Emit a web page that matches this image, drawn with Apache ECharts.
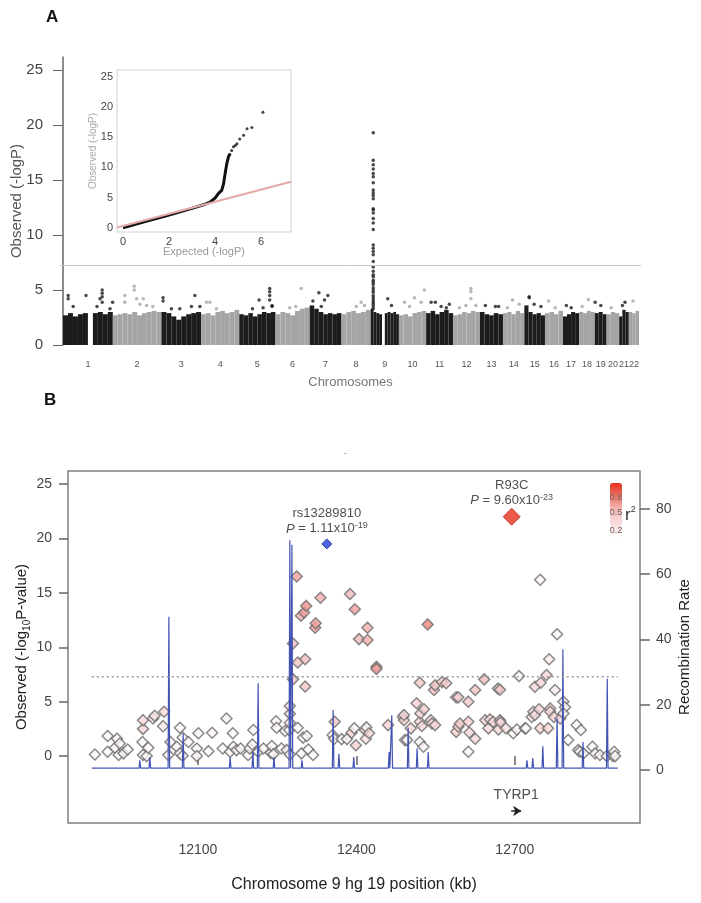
<!DOCTYPE html>
<html>
<head>
<meta charset="utf-8">
<script src="https://cdn.jsdelivr.net/npm/echarts@6.0.0/dist/echarts.min.js"></script>
<style>
  html, body { margin: 0; padding: 0; background: #fff; }
  #chart { width: 701px; height: 903px; }
</style>
</head>
<body>
<div id="chart"></div>
<script>
// ---------- panel A : genome-wide scan (positions in Mb) ----------
var chromLen = [249, 243, 198, 191, 181, 171, 159, 146, 141, 136, 135, 134, 115, 107, 103, 90, 81, 78, 59, 63, 48, 51];
// rough top of the dense band along each chromosome (0 = no markers)
var chromTops = [
  [2.7, 2.9, 2.6, 2.8, 2.9, 0, 2.9, 3.0, 2.8, 3.0],
  [2.7, 2.8, 2.9, 2.8, 3.0, 2.7, 2.9, 3.0, 3.1, 3.0],
  [3.0, 2.9, 2.6, 2.3, 2.6, 2.8, 2.9, 3.0],
  [2.8, 2.9, 2.7, 3.0, 3.1, 2.9, 3.0, 3.2],
  [2.8, 2.7, 2.9, 2.6, 2.8, 3.0, 2.9, 3.0],
  [2.8, 3.0, 2.9, 2.7, 3.1, 3.3, 3.4],
  [3.6, 3.3, 3.0, 2.8, 2.9, 2.8, 2.9],
  [2.8, 3.0, 3.1, 2.9, 3.0, 3.2],
  [3.3, 3.0, 2.9, 2.8, 0, 2.9, 3.0, 2.9, 3.0, 2.8],
  [2.7, 2.8, 2.6, 2.9, 3.0, 3.1],
  [2.9, 3.1, 2.8, 3.0, 3.2, 2.9],
  [2.7, 2.8, 3.0, 2.9, 3.1, 3.0],
  [3.0, 2.8, 2.7, 2.9, 2.8],
  [2.9, 3.0, 2.8, 3.1, 2.9],
  [3.6, 3.0, 2.8, 2.9, 2.7],
  [2.9, 3.0, 2.8, 3.1],
  [2.6, 2.8, 3.0, 2.9],
  [3.0, 2.9, 3.1, 3.0],
  [2.9, 3.0, 2.8],
  [2.8, 3.0, 2.9],
  [2.6, 3.2, 3.0],
  [3.0, 2.9, 3.1]
];
// [chromosome, position (Mb), -logP]
var chromOutliers = [
  [1, 26, 4.5], [1, 26, 4.2], [1, 51, 3.5], [1, 115, 4.5], [1, 170, 3.5], [1, 185, 4.2], [1, 196, 5.0], [1, 196, 4.7], [1, 196, 4.4], [1, 196, 3.9], [1, 235, 3.3], [1, 248, 3.9],
  [2, 60, 4.5], [2, 60, 3.9], [2, 107, 5.35], [2, 107, 5.0], [2, 119, 4.2], [2, 135, 3.7], [2, 152, 4.2], [2, 169, 3.6], [2, 200, 3.5],
  [3, 8, 4.3], [3, 8, 4.0], [3, 50, 3.3], [3, 92, 3.3], [3, 150, 3.5], [3, 167, 4.5], [3, 192, 3.5],
  [4, 27, 3.9], [4, 44, 3.9], [4, 77, 3.3],
  [5, 66, 3.3], [5, 99, 4.1], [5, 119, 3.4], [5, 152, 5.15], [5, 152, 4.85], [5, 152, 4.5], [5, 152, 4.1], [5, 164, 3.6], [5, 164, 3.5],
  [6, 71, 3.4], [6, 101, 3.5], [6, 129, 5.15],
  [7, 16, 4.0], [7, 46, 4.75], [7, 58, 3.5], [7, 74, 4.1], [7, 91, 4.5],
  [8, 74, 3.5], [8, 98, 3.9], [8, 115, 3.6],
  [9, 85, 4.2], [9, 104, 3.6],
  [10, 28, 3.9], [10, 53, 3.5], [10, 78, 4.3], [10, 111, 3.9], [10, 127, 5.0],
  [11, 25, 3.9], [11, 46, 3.9], [11, 75, 3.5], [11, 101, 3.4], [11, 116, 3.7],
  [12, 31, 3.4], [12, 64, 3.6], [12, 89, 5.15], [12, 89, 4.85], [12, 89, 4.2], [12, 114, 3.6],
  [13, 27, 3.6], [13, 77, 3.5], [13, 93, 3.5],
  [14, 22, 3.4], [14, 48, 4.1], [14, 81, 3.7],
  [15, 24, 4.4], [15, 24, 4.3], [15, 49, 3.7], [15, 83, 3.5],
  [16, 18, 4.0], [16, 51, 3.4],
  [17, 17, 3.6], [17, 41, 3.4],
  [18, 15, 3.5], [18, 46, 4.15],
  [19, 2, 3.9], [19, 30, 3.6],
  [20, 23, 3.4],
  [21, 16, 3.6], [21, 29, 3.9],
  [22, 21, 4.0]
];
// TYRP1 signal on chromosome 9
var chr9PeakPos = 12.7;
var chr9PeakLogP = [19.3, 16.8, 16.4, 16.0, 15.6, 15.3, 14.75, 14.1, 13.85, 13.6, 13.3, 12.4, 12.3, 12.0, 11.5, 11.1, 10.5,
  9.1, 8.8, 8.5, 8.2, 7.6, 7.1, 6.7, 6.4, 6.2, 5.9, 5.7, 5.5, 5.2, 5.0, 4.8, 4.5, 4.3, 4.1, 3.9, 3.7, 3.5, 3.3];
var gwThreshold = 7.3;

// ---------- inset : QQ plot ----------
var qqTicksX = [0, 2, 4, 6];
var qqTicksY = [0, 5, 10, 15, 20, 25];
var qqDense = [[0, 0], [1, 1.05], [2, 2.1], [3, 3.2], [3.5, 3.8], [3.8, 4.3], [4.0, 4.9], [4.15, 5.7], [4.29, 6.2],
  [4.37, 7.3], [4.44, 9.0], [4.51, 10.6], [4.58, 11.7], [4.66, 12.3]];
var qqSparse = [[4.72, 12.8], [4.8, 13.4], [4.88, 13.6], [4.95, 13.9], [5.07, 14.7], [5.24, 15.3], [5.39, 16.4], [5.6, 16.6], [6.08, 19.1]];
var qqExpected = [[-0.25, 0.05], [7.3, 7.6]];

// ---------- panel B : regional plot (positions in kb) ----------
var posTicks = [12100, 12400, 12700];
var logPTicks = [0, 5, 10, 15, 20, 25];
var rateTicks = [0, 20, 40, 60, 80];
// [position, -log10 P, r2]
var snps = [
  [11905, 0.15, 0.05], [11929, 1.85, 0.05], [11929, 0.4, 0.05], [11943, 0.77, 0.05], [11947, 1.6, 0.05], [11950, 0.1, 0.05], [11952, 1.15, 0.05], [11959, 0.25, 0.05], [11967, 0.6, 0.05],
  [11995, 1.3, 0.05], [11996, 0.1, 0.05], [11996, 2.5, 0.3], [11996, 3.3, 0.3], [12003, 0, 0.05], [12006, 0.77, 0.05], [12015, 3.45, 0.2], [12018, 3.7, 0.2], [12034, 2.75, 0.15], [12036, 4.07, 0.3],
  [12044, 0.1, 0.05], [12048, 1.3, 0.05], [12060, 0.85, 0.05], [12066, 2.6, 0.05], [12066, 0.25, 0.05], [12071, 1.7, 0.05], [12071, 0.03, 0.05], [12082, 1.3, 0.05],
  [12098, 0.7, 0.05], [12098, 0, 0.05], [12101, 2.1, 0.05], [12120, 0.45, 0.05], [12127, 2.15, 0.05], [12147, 0.7, 0.05], [12154, 3.45, 0.05], [12161, 0.4, 0.05], [12166, 2.1, 0.05], [12167, 0.86, 0.05], [12173, 0.55, 0.05], [12181, 0.7, 0.05],
  [12195, 0.1, 0.05], [12198, 0.7, 0.05], [12203, 1.07, 0.05], [12205, 2.4, 0.05], [12214, 0.4, 0.05], [12224, 0.7, 0.05], [12238, 0.3, 0.05], [12240, 0.92, 0.05], [12243, 0.18, 0.05], [12248, 3.2, 0.05], [12249, 2.6, 0.05], [12258, 0.7, 0.05], [12265, 2.3, 0.05], [12268, 0.55, 0.05], [12273, 2.4, 0.05],
  [12274, 0.15, 0.05], [12274, 3.06, 0.2], [12274, 3.9, 0.25], [12274, 4.6, 0.3], [12280, 7.05, 0.45], [12280, 10.35, 0.5], [12287, 16.5, 0.6], [12289, 8.6, 0.45], [12289, 2.6, 0.05], [12295, 12.9, 0.55], [12296, 0.25, 0.05], [12299, 1.7, 0.05], [12301, 13.2, 0.6], [12303, 8.9, 0.5], [12303, 6.4, 0.45], [12305, 13.8, 0.65], [12306, 1.85, 0.05], [12309, 0.6, 0.05], [12318, 0.1, 0.05],
  [12322, 11.8, 0.6], [12323, 12.2, 0.6], [12332, 14.55, 0.55], [12355, 1.93, 0.05], [12358, 1.6, 0.05], [12359, 3.15, 0.45], [12372, 1.56, 0.05], [12382, 1.56, 0.05],
  [12388, 14.9, 0.5], [12391, 2.15, 0.35], [12396, 2.55, 0.05], [12397, 13.5, 0.6], [12399, 1.0, 0.35], [12405, 10.75, 0.5], [12416, 2.4, 0.35], [12418, 1.6, 0.2], [12419, 2.64, 0.05], [12421, 11.8, 0.55], [12421, 10.66, 0.55], [12424, 2.1, 0.3], [12438, 8.2, 0.6], [12438, 8.0, 0.6],
  [12460, 2.85, 0.35], [12488, 3.6, 0.35], [12490, 3.3, 0.3], [12490, 3.77, 0.3], [12492, 1.47, 0.05], [12496, 1.47, 0.05], [12503, 2.55, 0.3], [12514, 4.85, 0.35], [12520, 6.74, 0.4], [12520, 3.15, 0.3], [12520, 1.3, 0.05], [12521, 3.92, 0.35], [12524, 2.76, 0.3], [12527, 0.86, 0.05], [12528, 4.3, 0.35],
  [12535, 12.1, 0.7], [12541, 3.3, 0.3], [12543, 3.0, 0.3], [12547, 6.07, 0.45], [12549, 6.5, 0.4], [12549, 2.85, 0.3], [12562, 6.8, 0.4], [12570, 6.7, 0.4], [12589, 5.4, 0.35], [12589, 2.23, 0.3], [12593, 5.4, 0.35], [12593, 2.7, 0.35], [12596, 3.0, 0.35],
  [12612, 5.0, 0.4], [12612, 3.15, 0.35], [12612, 0.4, 0.05], [12614, 2.17, 0.3], [12625, 6.07, 0.45], [12625, 1.6, 0.3], [12642, 7.05, 0.5], [12644, 3.3, 0.3], [12650, 2.55, 0.3], [12653, 3.37, 0.3], [12659, 3.15, 0.3], [12668, 6.2, 0.4], [12669, 2.45, 0.3], [12672, 6.1, 0.4], [12672, 3.3, 0.3], [12673, 3.1, 0.3], [12683, 2.55, 0.25],
  [12697, 2.1, 0.05], [12704, 2.45, 0.05], [12708, 7.35, 0.05], [12719, 2.55, 0.05], [12721, 2.55, 0.05], [12732, 3.6, 0.25], [12735, 4.07, 0.3], [12738, 3.77, 0.25], [12738, 6.37, 0.3], [12746, 4.3, 0.3], [12748, 2.55, 0.3], [12748, 16.2, 0.05], [12749, 6.74, 0.3], [12760, 7.45, 0.3], [12763, 2.55, 0.3], [12765, 8.9, 0.15], [12767, 4.38, 0.3], [12767, 4.07, 0.3],
  [12774, 3.6, 0.3], [12776, 6.07, 0.15], [12780, 11.2, 0.05], [12786, 3.45, 0.3], [12792, 5.0, 0.15], [12795, 4.48, 0.15], [12792, 3.92, 0.05], [12801, 1.47, 0.05], [12817, 2.85, 0.05], [12820, 0.55, 0.05], [12823, 0.4, 0.05], [12825, 2.4, 0.05], [12830, 0.25, 0.05], [12847, 0.86, 0.05], [12852, 0.25, 0.05], [12861, 0.1, 0.05], [12874, 0, 0.05], [12886, 0, 0.05], [12888, 0.4, 0.05], [12890, 0, 0.05]
];
var leadNames = ['rs13289810', 'R93C'];
var leadPos = [12344, 12694];
var leadLogP = [19.5, 22.0];
var leadPMantissa = ['1.11x10', '9.60x10'];
var leadPExp = ['-19', '-23'];
// recombination rate (cM/Mb): background level and spikes
var recombStart = 11899;
var recombEnd = 12895;
var recombBase = 0.6;
var recombPos = [11990, 12009, 12045, 12072, 12161, 12204, 12214, 12244, 12274, 12278, 12297, 12356, 12367, 12395, 12462, 12467, 12498, 12515, 12536, 12723, 12734, 12753, 12780, 12791, 12829, 12875];
var recombRate = [3, 4, 47, 11.3, 4, 5.5, 26.6, 4, 70.4, 69, 3, 18.4, 5, 4, 5.5, 16.8, 13, 6.7, 5.5, 3, 3.7, 7.3, 15.9, 37, 8.6, 28];
var geneNames = ['TYRP1'];
var geneStart = [12693];
var geneEnd = [12712];
var legendTicks = ['0.8', '0.5', '0.2'];

// ---------- build series data ----------
var chromStart = [];
var acc = 0;
chromLen.forEach(function (l) { chromStart.push(acc); acc += l; });
var genomeLen = acc;
var chromCenter = chromStart.map(function (s, i) { return s + chromLen[i] / 2; });

var blocks = [];
chromTops.forEach(function (tops, i) {
  var w = chromLen[i] / tops.length;
  tops.forEach(function (t, j) {
    if (t > 0) blocks.push([chromStart[i] + j * w, chromStart[i] + (j + 1) * w, t, i % 2]);
  });
});
var outlierData = chromOutliers.map(function (o) {
  return [chromStart[o[0] - 1] + o[1], o[2], (o[0] - 1) % 2];
});
var peakData = chr9PeakLogP.map(function (v) { return [chromStart[8] + chr9PeakPos, v]; });

var recombLine = [[recombStart, recombBase]];
recombPos.forEach(function (p, i) {
  recombLine.push([p - 1.5, recombBase], [p, recombRate[i]], [p + 1.5, recombBase]);
});
recombLine.push([recombEnd, recombBase]);

var BLACK = '#1c1c1c', GREY = '#a5a5a5';
var FONT = 'Liberation Sans, Arial, Helvetica, sans-serif';

var leadRich = {
  t: { fontSize: 13, color: '#222', lineHeight: 15 },
  i: { fontSize: 13, color: '#222', fontStyle: 'italic', lineHeight: 15 },
  s: { fontSize: 9, color: '#222', verticalAlign: 'top', lineHeight: 9 }
};
function leadLabel(k) {
  return '{t|' + leadNames[k] + '}\n{i|P}{t| = ' + leadPMantissa[k] + '}{s|' + leadPExp[k] + '}';
}

var chart = echarts.init(document.getElementById('chart'), null, { renderer: 'canvas' });

var option = {
  animation: false,
  backgroundColor: '#fff',
  textStyle: { fontFamily: FONT },
  grid: [
    { left: 60, top: 57, width: 581, height: 288, outerBoundsMode: 'none' },
    { left: 117, top: 70, width: 174, height: 162, show: true, borderColor: '#d0d0d0', borderWidth: 1, backgroundColor: '#fff', outerBoundsMode: 'none' },
    { left: 68, top: 471, width: 572, height: 352, show: true, borderColor: '#808080', borderWidth: 1.5, outerBoundsMode: 'none' }
  ],
  xAxis: [
    {
      gridIndex: 0, type: 'value', min: -15, max: genomeLen + 10,
      axisLine: { show: false }, axisTick: { show: false }, splitLine: { show: false },
      axisLabel: {
        customValues: chromCenter, fontSize: 9, color: '#555', margin: 15, hideOverlap: false,
        formatter: function (v) {
          var best = 0;
          chromCenter.forEach(function (c, i) { if (Math.abs(c - v) < Math.abs(chromCenter[best] - v)) best = i; });
          return String(best + 1);
        }
      },
      name: 'Chromosomes', nameLocation: 'middle', nameGap: 31, nameMoveOverlap: false,
      nameTextStyle: { fontSize: 13, color: '#777' }
    },
    {
      gridIndex: 1, type: 'value', min: -0.26, max: 7.3,
      axisLine: { show: false }, axisTick: { show: false }, splitLine: { show: false },
      axisLabel: { customValues: qqTicksX, fontSize: 11, color: '#444', margin: 4 },
      name: 'Expected (-logP)', nameLocation: 'middle', nameGap: 14, nameMoveOverlap: false,
      nameTextStyle: { fontSize: 11, color: '#999' }
    },
    {
      gridIndex: 2, type: 'value', min: 11854, max: 12937,
      axisLine: { show: false }, splitLine: { show: false },
      axisTick: { show: true, customValues: posTicks, length: 9, lineStyle: { color: '#666', width: 1.5 } },
      axisLabel: { customValues: posTicks, fontSize: 14, color: '#444', margin: 20, formatter: function (v) { return String(v); } },
      name: 'Chromosome 9 hg 19 position (kb)', nameLocation: 'middle', nameGap: 54, nameMoveOverlap: false,
      nameTextStyle: { fontSize: 16, color: '#222' }
    }
  ],
  yAxis: [
    {
      gridIndex: 0, type: 'value', min: 0, max: 26.2,
      axisLine: { show: true, lineStyle: { color: '#666', width: 1.5 } },
      axisTick: { show: true, customValues: [0, 5, 10, 15, 20, 25], length: 10, lineStyle: { color: '#666' } },
      axisLabel: { customValues: [0, 5, 10, 15, 20, 25], fontSize: 15, color: '#444', margin: 17 },
      splitLine: { show: false },
      name: 'Observed (-logP)', nameLocation: 'middle', nameGap: 36, nameRotate: 90, nameMoveOverlap: false,
      nameTextStyle: { fontSize: 15, color: '#555' }
    },
    {
      gridIndex: 1, type: 'value', min: -0.7, max: 26.1,
      axisLine: { show: false }, axisTick: { show: false }, splitLine: { show: false },
      axisLabel: { customValues: qqTicksY, fontSize: 11, color: '#444', margin: 4 },
      name: 'Observed (-logP)', nameLocation: 'middle', nameGap: 19, nameRotate: 90, nameMoveOverlap: false,
      nameTextStyle: { fontSize: 10, color: '#aaa' }
    },
    {
      gridIndex: 2, type: 'value', min: -6.15, max: 26.2, position: 'left',
      axisLine: { show: false }, splitLine: { show: false },
      axisTick: { show: true, customValues: logPTicks, length: 9, lineStyle: { color: '#666', width: 1.5 } },
      axisLabel: { customValues: logPTicks, fontSize: 14, color: '#444', margin: 16 },
      name: 'Observed (-log{sub|10}P-value)', nameLocation: 'middle', nameGap: 36, nameRotate: 90, nameMoveOverlap: false,
      nameTextStyle: { fontSize: 15, color: '#222', lineHeight: 20, rich: { sub: { fontSize: 10, color: '#222', verticalAlign: 'bottom', lineHeight: 12 } } }
    },
    {
      gridIndex: 2, type: 'value', min: -16.2, max: 91.6, position: 'right',
      axisLine: { show: false }, splitLine: { show: false },
      axisTick: { show: true, customValues: rateTicks, length: 10, lineStyle: { color: '#666', width: 1.5 } },
      axisLabel: { customValues: rateTicks, fontSize: 14, color: '#444', margin: 16 },
      name: 'Recombination Rate', nameLocation: 'middle', nameGap: 37, nameRotate: 90, nameMoveOverlap: false,
      nameTextStyle: { fontSize: 15, color: '#222' }
    }
  ],
  visualMap: {
    type: 'continuous', seriesIndex: 8, dimension: 2, min: 0, max: 1,
    inRange: { color: ['#ffffff', '#f3bcbc', '#e8301c'] },
    left: 610, top: 483, itemWidth: 12, itemHeight: 54, padding: 0,
    calculable: false, hoverLink: false, text: null, z: 2
  },
  graphic: [
    { type: 'text', left: 46, top: 9, style: { text: 'A', fontSize: 17, fontWeight: 'bold', fill: '#111', fontFamily: FONT } },
    { type: 'text', left: 44, top: 392, style: { text: 'B', fontSize: 17, fontWeight: 'bold', fill: '#111', fontFamily: FONT } },
    { type: 'text', left: 344, top: 449, style: { text: '-', fontSize: 9, fill: '#888', fontFamily: FONT } },
    { type: 'text', z: 100, x: 616, y: 498, style: { text: legendTicks[0], fontSize: 9, fill: '#7a5a5a', align: 'center', verticalAlign: 'middle', fontFamily: FONT } },
    { type: 'text', z: 100, x: 616, y: 513, style: { text: legendTicks[1], fontSize: 9, fill: '#7a5a5a', align: 'center', verticalAlign: 'middle', fontFamily: FONT } },
    { type: 'text', z: 100, x: 616, y: 531, style: { text: legendTicks[2], fontSize: 9, fill: '#7a5a5a', align: 'center', verticalAlign: 'middle', fontFamily: FONT } },
    { type: 'text', z: 100, x: 625, y: 505, style: { text: '{r|r}{s|2}', rich: { r: { fontSize: 17, fill: '#333', lineHeight: 20 }, s: { fontSize: 9, fill: '#333', verticalAlign: 'top', lineHeight: 10 } }, fontFamily: FONT } }
  ],
  series: [
    // 0 dense bands
    {
      type: 'custom', xAxisIndex: 0, yAxisIndex: 0, data: blocks, encode: { x: [0, 1], y: 2 }, silent: true,
      renderItem: function (params, api) {
        var p0 = api.coord([api.value(0), api.value(2)]);
        var p1 = api.coord([api.value(1), 0]);
        return { type: 'rect', shape: { x: p0[0], y: p0[1], width: p1[0] - p0[0], height: p1[1] - p0[1] },
          style: { fill: api.value(3) ? GREY : BLACK } };
      },
      markLine: { silent: true, symbol: 'none', label: { show: false }, lineStyle: { color: '#c8c8c8', width: 1, type: 'solid' }, data: [{ yAxis: gwThreshold }] }
    },
    // 1 outlying markers
    {
      type: 'scatter', xAxisIndex: 0, yAxisIndex: 0, data: outlierData, symbolSize: 3.5, silent: true,
      itemStyle: { color: function (p) { return p.data[2] ? GREY : BLACK; } }
    },
    // 2 chromosome 9 signal
    {
      type: 'scatter', xAxisIndex: 0, yAxisIndex: 0, data: peakData, symbolSize: 3.5, silent: true,
      itemStyle: { color: BLACK }
    },
    // 3 QQ observed (dense part)
    {
      type: 'line', xAxisIndex: 1, yAxisIndex: 1, data: qqDense, symbol: 'none', silent: true,
      lineStyle: { color: '#111', width: 3 }
    },
    // 4 QQ observed (sparse tail)
    {
      type: 'scatter', xAxisIndex: 1, yAxisIndex: 1, data: qqSparse, symbolSize: 3, silent: true,
      itemStyle: { color: '#111' }
    },
    // 5 QQ expected
    {
      type: 'line', xAxisIndex: 1, yAxisIndex: 1, data: qqExpected, symbol: 'none', silent: true,
      lineStyle: { color: '#e5a9a6', width: 2 }
    },
    // 6 recombination rate
    {
      type: 'line', xAxisIndex: 2, yAxisIndex: 3, data: recombLine, symbol: 'none', silent: true,
      lineStyle: { color: '#4353b3', width: 1.2 }
    },
    // 7 significance line
    {
      type: 'line', xAxisIndex: 2, yAxisIndex: 2, data: [[recombStart, gwThreshold], [recombEnd, gwThreshold]], symbol: 'none', silent: true,
      lineStyle: { color: '#999', width: 1.5, type: [2, 3] }
    },
    // 8 SNPs coloured by r2
    {
      type: 'scatter', xAxisIndex: 2, yAxisIndex: 2, data: snps, symbol: 'diamond', symbolSize: 11, silent: true,
      encode: { x: 0, y: 1 },
      itemStyle: { borderColor: '#6b6b6b', borderWidth: 1.5 }
    },
    // 9 lead SNP
    {
      type: 'scatter', xAxisIndex: 2, yAxisIndex: 2, data: [[leadPos[0], leadLogP[0]]], symbol: 'diamond', symbolSize: 10, silent: true,
      itemStyle: { color: '#1d3fd8', borderColor: '#0b1f85', borderWidth: 1 },
      label: { show: true, position: 'top', distance: 2, align: 'center', formatter: function () { return leadLabel(0); }, rich: leadRich }
    },
    // 10 R93C
    {
      type: 'scatter', xAxisIndex: 2, yAxisIndex: 2, data: [[leadPos[1], leadLogP[1]]], symbol: 'diamond', symbolSize: 17, silent: true,
      itemStyle: { color: '#e8321e', borderColor: '#b52412', borderWidth: 1 },
      label: { show: true, position: 'top', distance: 0, align: 'center', formatter: function () { return leadLabel(1); }, rich: leadRich }
    },
    // 11 gene name and strand arrow
    {
      type: 'scatter', xAxisIndex: 2, yAxisIndex: 2, silent: true, symbolSize: 0,
      data: [[(geneStart[0] + geneEnd[0]) / 2, -3.6]],
      label: { show: true, position: 'inside', fontSize: 14, color: '#222', formatter: geneNames[0] },
      markLine: {
        silent: true, symbol: ['none', 'arrow'], symbolSize: 8,
        label: { show: false }, lineStyle: { color: '#222', width: 1.5, type: 'solid' },
        data: [[{ coord: [geneStart[0], -5.05] }, { coord: [geneEnd[0], -5.05] }]]
      }
    }
  ]
};
chart.setOption(option);
</script>
</body>
</html>
